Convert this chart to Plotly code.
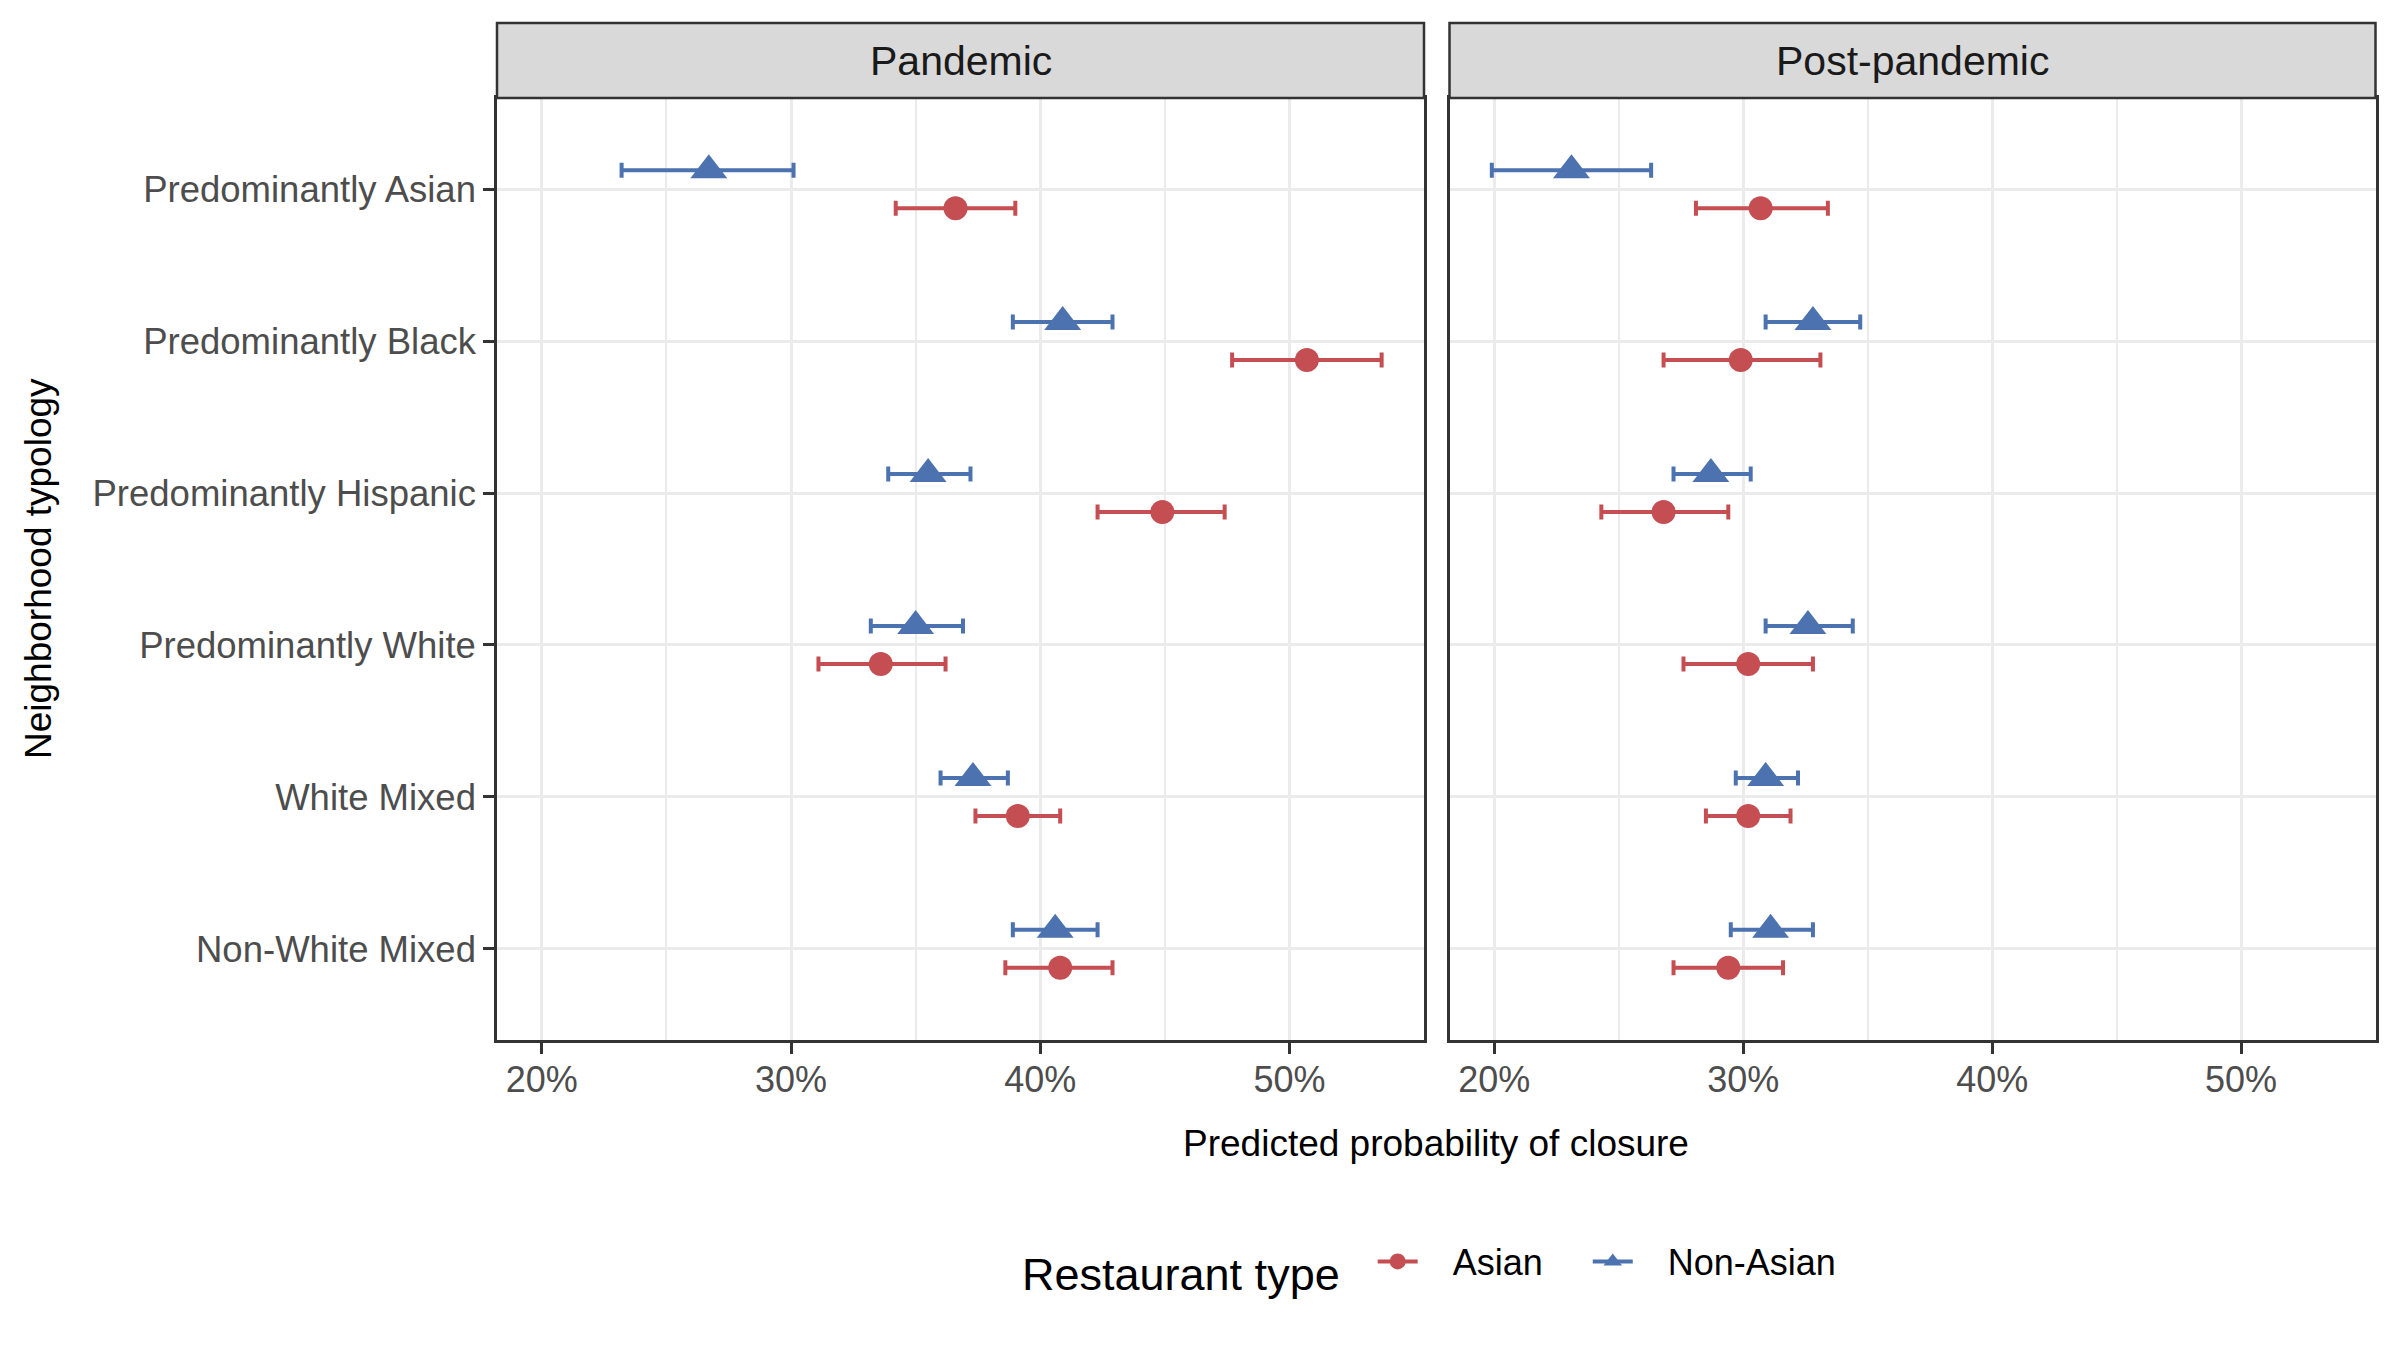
import plotly.graph_objects as go

# ---------------- data ----------------
categories = ["Predominantly Asian", "Predominantly Black", "Predominantly Hispanic",
              "Predominantly White", "White Mixed", "Non-White Mixed"]
periods = ["Pandemic", "Post-pandemic"]
types = ["Asian", "Non-Asian"]

# Pandemic (predicted probability of closure, %)
pan_asian = [36.6, 50.7, 44.9, 33.6, 39.1, 40.8]
pan_asian_lo = [34.2, 47.7, 42.3, 31.1, 37.4, 38.6]
pan_asian_hi = [39.0, 53.7, 47.4, 36.2, 40.8, 42.9]
pan_non = [26.7, 40.9, 35.5, 35.0, 37.3, 40.6]
pan_non_lo = [23.2, 38.9, 33.9, 33.2, 36.0, 38.9]
pan_non_hi = [30.1, 42.9, 37.2, 36.9, 38.7, 42.3]

# Post-pandemic
post_asian = [30.7, 29.9, 26.8, 30.2, 30.2, 29.4]
post_asian_lo = [28.1, 26.8, 24.3, 27.6, 28.5, 27.2]
post_asian_hi = [33.4, 33.1, 29.4, 32.8, 31.9, 31.6]
post_non = [23.1, 32.8, 28.7, 32.6, 30.9, 31.1]
post_non_lo = [19.9, 30.9, 27.2, 30.9, 29.7, 29.5]
post_non_hi = [26.3, 34.7, 30.3, 34.4, 32.2, 32.8]

x_ticks = [20, 30, 40, 50]
x_tick_labels = ["20%", "30%", "40%", "50%"]
x_minor = [25, 35, 45]

# ---------------- styling ----------------
W, H = 2400, 1350
FONT = "Liberation Sans, Arial, Helvetica, sans-serif"
NB = "\u00a0"
colors = {"Asian": "#C44E52", "Non-Asian": "#4C72B0"}
symbols = {"Asian": "circle", "Non-Asian": "triangle-up"}
msize = {"Asian": 24, "Non-Asian": 32}
dodge = {"Asian": -0.125, "Non-Asian": 0.125}

series = {
    ("Pandemic", "Asian"): (pan_asian, pan_asian_lo, pan_asian_hi),
    ("Pandemic", "Non-Asian"): (pan_non, pan_non_lo, pan_non_hi),
    ("Post-pandemic", "Asian"): (post_asian, post_asian_lo, post_asian_hi),
    ("Post-pandemic", "Non-Asian"): (post_non, post_non_lo, post_non_hi),
}

n = len(categories)
cat_pos = [n - i for i in range(n)]  # top category -> highest position

def px_x(p):
    return p / W

def px_y(p):
    return 1 - p / H

panel_left = [(497, 1424), (1449.5, 2375.5)]
panel_top, panel_bottom = 98, 1040
strip_top = 23

fig = go.Figure()

for pi, period in enumerate(periods):
    xa = "x" if pi == 0 else "x2"
    ya = "y" if pi == 0 else "y2"
    for t in types:
        vals, lo, hi = series[(period, t)]
        fig.add_trace(go.Scatter(
            x=vals,
            y=[p + dodge[t] for p in cat_pos],
            mode="markers",
            marker=dict(symbol=symbols[t], size=msize[t], color=colors[t]),
            error_x=dict(type="data", symmetric=False,
                         array=[h - v for h, v in zip(hi, vals)],
                         arrayminus=[v - l for v, l in zip(vals, lo)],
                         color=colors[t], thickness=4, width=7.5),
            xaxis=xa, yaxis=ya, showlegend=False, name=t,
        ))

# legend-only traces (line + marker like ggplot key)
for t in types:
    fig.add_trace(go.Scatter(
        x=[None], y=[None], mode="lines+markers",
        name=NB * 3 + t + NB * 4,
        line=dict(color=colors[t], width=4),
        marker=dict(symbol=symbols[t], size=msize[t], color=colors[t]),
        xaxis="x", yaxis="y", showlegend=True,
    ))

xaxis_common = dict(
    range=[18.2, 55.4], tickvals=x_ticks, ticktext=x_tick_labels,
    showgrid=True, gridcolor="#EBEBEB", gridwidth=3,
    minor=dict(tickvals=x_minor, showgrid=True, gridcolor="#EBEBEB", gridwidth=1.5, ticks=""),
    ticks="outside", ticklen=11, tickwidth=3, tickcolor="#333333",
    tickfont=dict(family=FONT, size=36, color="#4D4D4D"),
    ticklabelstandoff=-5,
    showline=True, mirror=True, linecolor="#333333", linewidth=2.5,
    zeroline=False,
)
yaxis_common = dict(
    range=[0.4, n + 0.6], tickvals=cat_pos, showgrid=True, gridcolor="#EBEBEB", gridwidth=3,
    showline=True, mirror=True, linecolor="#333333", linewidth=2.5, zeroline=False,
    domain=[px_y(panel_bottom), px_y(panel_top)],
)

fig.update_layout(
    width=W, height=H,
    margin=dict(l=0, r=0, t=0, b=0),
    paper_bgcolor="white", plot_bgcolor="white",
    font=dict(family=FONT, color="black"),
    xaxis=dict(domain=[px_x(panel_left[0][0]), px_x(panel_left[0][1])], anchor="y", **xaxis_common),
    xaxis2=dict(domain=[px_x(panel_left[1][0]), px_x(panel_left[1][1])], anchor="y2", **xaxis_common),
    yaxis=dict(anchor="x", ticktext=categories, ticks="outside", ticklen=11, tickwidth=3,
               tickcolor="#333333", tickfont=dict(family=FONT, size=36.5, color="#4D4D4D"),
               **yaxis_common),
    yaxis2=dict(anchor="x2", matches="y", showticklabels=False, ticks="", **yaxis_common),
    legend=dict(
        orientation="h", x=px_x(1020), xanchor="left", y=px_y(1266), yanchor="middle",
        title=dict(text="Restaurant type" + NB * 2, side="left",
                   font=dict(family=FONT, size=45, color="black")),
        font=dict(family=FONT, size=36, color="black"),
        itemwidth=40, bgcolor="rgba(0,0,0,0)",
    ),
)

shapes = []
annotations = []
for pi, period in enumerate(periods):
    x0, x1 = panel_left[pi]
    shapes.append(dict(type="rect", xref="paper", yref="paper",
                       x0=px_x(x0), x1=px_x(x1), y0=px_y(panel_top), y1=px_y(strip_top),
                       fillcolor="#D9D9D9", line=dict(color="#333333", width=2.5), layer="above"))
    annotations.append(dict(text=period, xref="paper", yref="paper",
                            x=px_x((x0 + x1) / 2), y=px_y((panel_top + strip_top) / 2),
                            xanchor="center", yanchor="middle", showarrow=False,
                            font=dict(family=FONT, size=41, color="#1A1A1A")))

annotations.append(dict(text="Predicted probability of closure", xref="paper", yref="paper",
                        x=px_x((panel_left[0][0] + panel_left[1][1]) / 2), y=px_y(1143),
                        xanchor="center", yanchor="middle", showarrow=False,
                        font=dict(family=FONT, size=37, color="black")))
annotations.append(dict(text="Neighborhood typology", xref="paper", yref="paper",
                        x=px_x(38), y=px_y((panel_top + panel_bottom) / 2), textangle=-90,
                        xanchor="center", yanchor="middle", showarrow=False,
                        font=dict(family=FONT, size=37, color="black")))

fig.update_layout(shapes=shapes, annotations=annotations)

fig.write_html("out.html")
